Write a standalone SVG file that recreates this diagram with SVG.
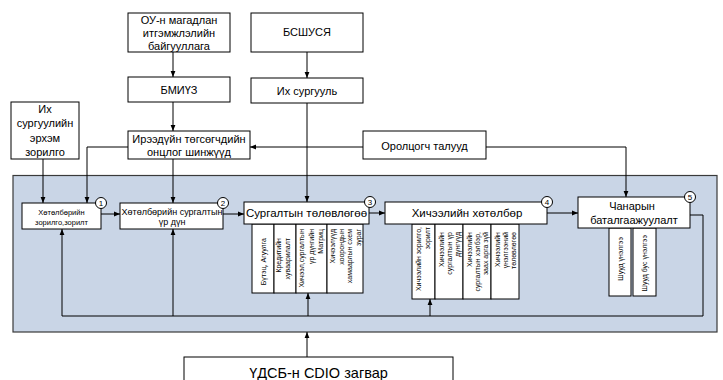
<svg xmlns="http://www.w3.org/2000/svg" width="723" height="380" viewBox="0 0 723 380">
<style>
text{font-family:"Liberation Sans",Arial,sans-serif;fill:#000}
.box{fill:#fff;stroke:#000;stroke-width:1}
.panel{fill:#c9d5e6;stroke:#3a3a3a;stroke-width:1.2}
.ln{fill:none;stroke:#000;stroke-width:1}
.arr{marker-end:url(#ah)}
.c{text-anchor:middle;dominant-baseline:central}
.t11{font-size:11px}
.v{font-size:7px;text-anchor:end;dominant-baseline:central}
.num{fill:#fff;stroke:#000;stroke-width:1}
.nt{font-size:8px;text-anchor:middle;dominant-baseline:central}
</style>
<defs>
<marker id="ah" viewBox="0 0 10 10" refX="10" refY="5" markerWidth="6" markerHeight="6" orient="auto" markerUnits="userSpaceOnUse">
<path d="M0,1 L10,5 L0,9 z" fill="#000"/>
</marker>
</defs>
<rect width="723" height="380" fill="#fff"/>
<rect id="panel" class="panel" x="13" y="175.5" width="704" height="156.5"/>

<g id="connectors">
<path class="ln arr" d="M173,52 V77"/>
<path class="ln arr" d="M307,52 V78"/>
<path class="ln arr" d="M173,102 V131"/>
<path class="ln arr" d="M307,103 V202"/>
<path class="ln arr" d="M363,147 H250"/>
<path class="ln arr" d="M486,147 H626 V197"/>
<path class="ln arr" d="M43,159 V203"/>
<path class="ln arr" d="M128,147 H87 V203"/>
<path class="ln arr" d="M173,159 V203"/>
<path class="ln arr" d="M101,214 H120"/>
<path class="ln arr" d="M223,214 H244"/>
<path class="ln arr" d="M369,213 H385"/>
<path class="ln arr" d="M547,213 H578"/>
<path class="ln arr" d="M690,215 H703 V316 H62 V229"/>
<path class="ln arr" d="M173,316 V229"/>
<path class="ln arr" d="M308,316 V293"/>
<path class="ln arr" d="M430,316 V299"/>
<path class="ln arr" d="M307,357 V332"/>
</g>

<g id="n-ou">
<rect class="box" x="128" y="13" width="102" height="39"/>
<text class="c t11" x="179" y="19.5">ОУ-н магадлан</text>
<text class="c t11" x="179" y="32.5">итгэмжлэлийн</text>
<text class="c t11" x="179" y="45.5">байгууллага</text>
</g>
<g id="n-bsshusya">
<rect class="box" x="251" y="13" width="112" height="39"/>
<text class="c t11" x="307" y="32">БСШУСЯ</text>
</g>
<g id="n-bmiuz">
<rect class="box" x="128" y="77" width="102" height="25"/>
<text class="c t11" x="179" y="89.5">БМИҮЗ</text>
</g>
<g id="n-ih">
<rect class="box" x="251" y="78" width="112" height="25"/>
<text class="c t11" x="307" y="90.5">Их сургууль</text>
</g>
<g id="n-erhem">
<rect class="box" x="11" y="102" width="68" height="57"/>
<text class="c t11" x="45" y="108.5">Их</text>
<text class="c t11" x="45" y="123">сургуулийн</text>
<text class="c t11" x="45" y="137.5">эрхэм</text>
<text class="c t11" x="45" y="152">зорилго</text>
</g>
<g id="n-ireedui">
<rect class="box" x="128" y="131" width="122" height="28"/>
<text class="c t11" x="189" y="138.5">Ирээдүйн төгсөгчдийн</text>
<text class="c t11" x="189" y="152">онцлог шинжүүд</text>
</g>
<g id="n-orolts">
<rect class="box" x="363" y="131" width="123" height="28"/>
<text class="c t11" x="424.5" y="145.5">Оролцогч талууд</text>
</g>

<g id="n1">
<rect class="box" x="22" y="203" width="79" height="26"/>
<text class="c" style="font-size:7.5px" x="61.5" y="212">Хөтөлбөрийн</text>
<text class="c" style="font-size:7.5px" x="61.5" y="222">зорилго,зорилт</text>
<circle class="num" cx="101" cy="203" r="5.5"/><text class="nt" x="101" y="203.3">1</text>
</g>
<g id="n2">
<rect class="box" x="120" y="203" width="103" height="26"/>
<text class="c" style="font-size:9px" x="172" y="212">Хөтөлбөрийн сургалтын</text>
<text class="c" style="font-size:9px" x="172" y="222">үр дүн</text>
<circle class="num" cx="223" cy="203" r="5.5"/><text class="nt" x="223" y="203.3">2</text>
</g>
<g id="n3">
<rect class="box" x="252" y="224" width="22" height="69"/>
<rect class="box" x="274" y="224" width="22" height="69"/>
<rect class="box" x="296" y="224" width="31" height="69"/>
<rect class="box" x="327" y="224" width="36" height="69"/>
<text class="v" transform="translate(263,238) rotate(-90)">Бүтэц, Агуулга</text>
<text class="v" transform="translate(278,238) rotate(-90)"><tspan x="0" dy="0">Кредитийн</tspan><tspan x="0" dy="9">хуваарилалт</tspan></text>
<text class="v" transform="translate(301,229) rotate(-90)"><tspan x="0" dy="0">Хичээл,сургалтын</tspan><tspan x="0" dy="9.5">үр дүнгийн</tspan><tspan x="0" dy="9.5">Матриц</tspan></text>
<text class="v" transform="translate(332,229) rotate(-90)"><tspan x="0" dy="0">Хичээлүүд</tspan><tspan x="0" dy="8.5">хоорондын</tspan><tspan x="0" dy="8.5">хамаарлын схем</tspan><tspan x="0" dy="8.5">зураг</tspan></text>
<rect class="box" x="244" y="202" width="125" height="22"/>
<text class="c" style="font-size:11.5px" x="306.5" y="213">Сургалтын төлөвлөгөө</text>
<circle class="num" cx="370" cy="202" r="5.5"/><text class="nt" x="370" y="202.3">3</text>
</g>
<g id="n4">
<rect class="box" x="412" y="224" width="23" height="75"/>
<rect class="box" x="435" y="224" width="28" height="75"/>
<rect class="box" x="463" y="224" width="28" height="75"/>
<rect class="box" x="491" y="224" width="28" height="75"/>
<text class="v" transform="translate(418,227) rotate(-90)"><tspan x="0" dy="0">Хичээлийн зорилго,</tspan><tspan x="0" dy="8.5">зорилт</tspan></text>
<text class="v" transform="translate(441,232) rotate(-90)"><tspan x="0" dy="0">Хичээлийн</tspan><tspan x="0" dy="8">сургалтын үр</tspan><tspan x="0" dy="8">дүнгүүд</tspan></text>
<text class="v" transform="translate(469,232) rotate(-90)"><tspan x="0" dy="0">Хичээлийн</tspan><tspan x="0" dy="8">сургалтын хэлбэр,</tspan><tspan x="0" dy="8">заах арга зүй</tspan></text>
<text class="v" transform="translate(497,232) rotate(-90)"><tspan x="0" dy="0">Хичээлийн</tspan><tspan x="0" dy="8">үнэлгээний</tspan><tspan x="0" dy="8">төлөвлөгөө</tspan></text>
<rect class="box" x="385" y="202" width="162" height="22"/>
<text class="c" style="font-size:11.5px" x="467" y="213">Хичээлийн хөтөлбөр</text>
<circle class="num" cx="547" cy="202" r="5.5"/><text class="nt" x="547" y="202.3">4</text>
</g>
<g id="n5">
<rect class="box" x="609" y="228" width="22" height="68"/>
<rect class="box" x="633" y="228" width="23" height="68"/>
<text class="v" transform="translate(620,237) rotate(-90)">Шууд үнэлгээ</text>
<text class="v" transform="translate(644.5,235) rotate(-90)">Шууд бус үнэлгээ</text>
<rect class="box" x="578" y="197" width="112" height="31"/>
<text class="c t11" x="632" y="205.5">Чанарын</text>
<text class="c t11" x="634" y="220">баталгаажуулалт</text>
<circle class="num" cx="690" cy="197" r="5.5"/><text class="nt" x="690" y="197.3">5</text>
</g>

<g id="n-cdio">
<rect class="box" x="184" y="357" width="269" height="40"/>
<text class="c" style="font-size:14.5px" x="318.5" y="373">ҮДСБ-н CDIO загвар</text>
</g>
</svg>
